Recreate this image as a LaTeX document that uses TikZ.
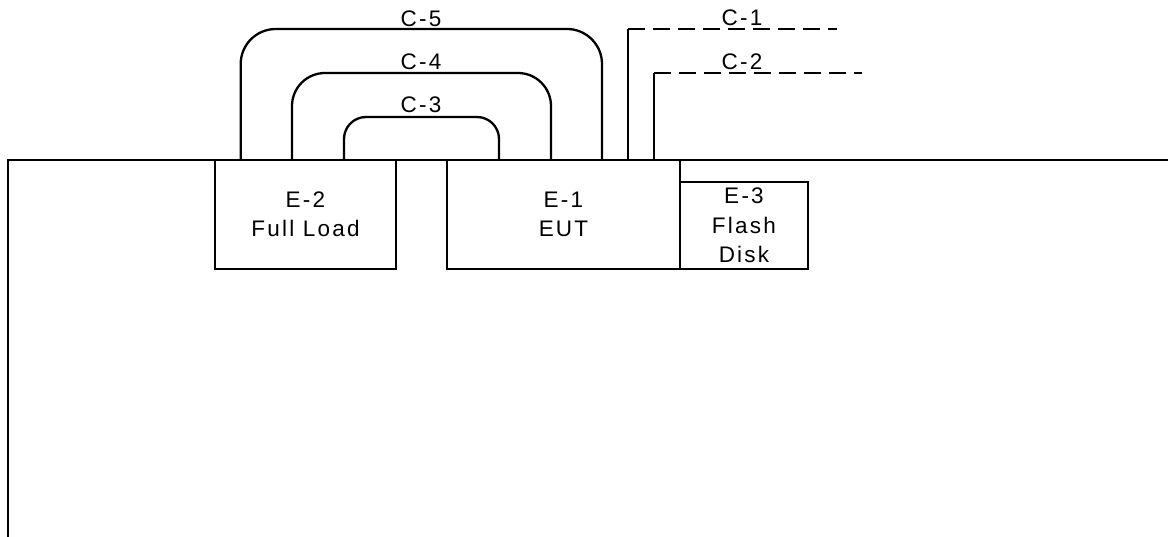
\documentclass[tikz,border=0pt]{standalone}
\usepackage{fontspec}
\setmainfont{Liberation Sans}[LetterSpace=10]
\begin{document}
\begin{tikzpicture}[x=1pt,y=-1pt,
  line width=2.3pt,
  txt/.style={font=\fontsize{22.5}{29.5}\selectfont, inner sep=0pt},
  box/.style={draw, txt, align=center, line width=2.3pt},
  lbl/.style={txt, anchor=base},
  cable/.style={line width=2.3pt},
  dashcable/.style={line width=2.8pt, dash pattern=on 17pt off 8pt}]
\useasboundingbox (0,0) rectangle (1168,537);
% table edge
\coordinate (bl) at (8,537);
\coordinate (tr) at (1168,160);
\draw (bl) |- (tr);
% equipment
\node[box, minimum width=181pt, minimum height=109pt] (e2) at (305.5,214.5) {E-2\\Full Load};
\node[box, minimum width=233pt, minimum height=109pt] (e1) at (563.5,214.5) {E-1\\EUT};
\node[box, minimum width=128pt, minimum height=87pt] (e3) at (744,225.5) {E-3\\Flash\\Disk};
% cable end points on the table edge
\coordinate (c5a) at (240.7,160); \coordinate (c5b) at (602,160);
\coordinate (c4a) at (292,160);   \coordinate (c4b) at (551,160);
\coordinate (c3a) at (344,160);   \coordinate (c3b) at (499,160);
\coordinate (c1a) at (628,160);   \coordinate (c1e) at (837,29);
\coordinate (c2a) at (654,160);   \coordinate (c2e) at (862,73);
% looped cables
\draw[cable, rounded corners=35pt] (c5a) |- (421,29) -| (c5b);
\draw[cable, rounded corners=33pt] (c4a) |- (421,73) -| (c4b);
\draw[cable, rounded corners=22pt] (c3a) |- (421,117) -| (c3b);
% open cables
\coordinate (c1k) at (628,29);
\coordinate (c2k) at (654,73);
\draw[cable] (c1a) -- (c1k);
\draw[dashcable] (c1k) -- (c1e);
\draw[cable] (c2a) -- (c2k);
\draw[dashcable] (c2k) -- (c2e);
% labels
\node[lbl] (l5) at (421,27) {C-5};
\node[lbl] (l4) at (421,70) {C-4};
\node[lbl] (l3) at (421,113) {C-3};
\node[lbl] (l1) at (742,26) {C-1};
\node[lbl] (l2) at (742,70) {C-2};
\end{tikzpicture}
\end{document}
